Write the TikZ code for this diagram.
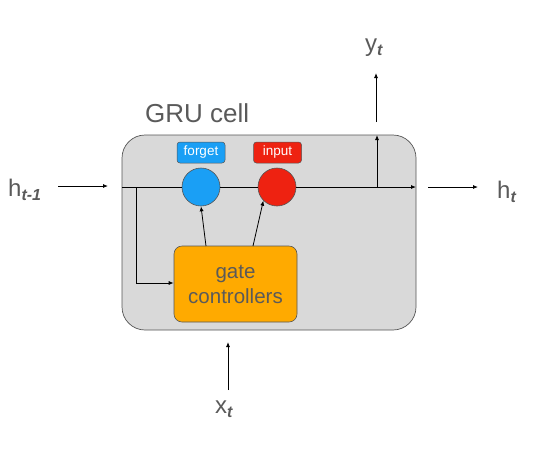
\documentclass[tikz,border=0pt]{standalone}
\usepackage{fontspec}
\setmainfont{Liberation Sans}
\usetikzlibrary{arrows.meta}
\definecolor{cellfill}{HTML}{D9D9D9}
\definecolor{edge}{HTML}{555555}
\definecolor{txt}{HTML}{5A5A5A}
\definecolor{fblue}{HTML}{1A9FF5}
\definecolor{ired}{HTML}{EE2211}
\definecolor{gorange}{HTML}{FFAA00}
\newcommand{\subt}[1]{{\fontsize{16}{16}\selectfont\raisebox{-4pt}{\textbf{\textit{#1}}}}}
\tikzset{
  arr/.style={-{Latex[length=5pt,width=4pt]}, line width=0.8pt, black},
  ln/.style={line width=0.8pt, black},
  gatecirc/.style={circle, draw=edge, line width=0.6pt, minimum size=38pt, inner sep=0pt},
  tag/.style={rounded corners=3pt, draw=edge, line width=0.5pt, text=white, font=\fontsize{13.5}{15}\selectfont, minimum width=48pt, minimum height=21pt, inner sep=0pt},
  lbl/.style={text=txt, font=\fontsize{24}{28}\selectfont, inner sep=0pt},
}
\begin{document}
\begin{tikzpicture}[x=1pt,y=-1pt]
\useasboundingbox (0,0) rectangle (545,459);
% cell
\node[draw=edge, line width=0.7pt, fill=cellfill, rounded corners=23pt, minimum width=294pt, minimum height=195pt, inner sep=0pt] (cell) at (269,232.5) {};
\node[text=txt, font=\fontsize{26}{30}\selectfont, anchor=west, inner sep=0pt] (title) at (145,113) {GRU cell};
% gates
\node[gatecirc, fill=fblue] (forget) at (201,187) {};
\node[gatecirc, fill=ired] (input) at (277,187) {};
\node[tag, fill=fblue] (ftag) at (201,152.5) {forget};
\node[tag, fill=ired] (itag) at (277.5,152.5) {input};
\node[draw=edge, line width=0.6pt, fill=gorange, rounded corners=8pt, minimum width=123pt, minimum height=76pt, inner sep=0pt, align=center, text=txt, font=\fontsize{20.5}{25}\selectfont] (gc) at (235.5,284) {gate\\controllers};
% coordinates
\coordinate (inL) at (122,187);
\coordinate (br) at (136,187);
\coordinate (brd) at (136,283);
\coordinate (outR) at (416,187);
\coordinate (yb) at (377,187);
\coordinate (yt) at (377,135);
% main line
\draw[ln] (inL) -- (forget.west);
\draw[ln] (forget.east) -- (input.west);
\draw[arr] (input.east) -- (outR);
\draw[arr] (yb) -- (yt);
\draw[arr] (br) -- (brd) -- (gc.west |- brd);
\draw[arr] (206,246) -- (forget.south);
\draw[arr] (253,246) -- (input.south west);
% outside
\node[lbl, anchor=base west] (hprev) at (8,196) {h\subt{t-1}};
\coordinate (hp1) at (58,186);
\coordinate (hp2) at (108,186);
\draw[arr] (hp1) -- (hp2);
\node[lbl, anchor=base west] (hnext) at (497,198) {h\subt{t}};
\coordinate (hn1) at (428,187);
\coordinate (hn2) at (478,187);
\draw[arr] (hn1) -- (hn2);
\node[lbl, anchor=base west] (ylab) at (365,51) {y\subt{t}};
\coordinate (y1) at (376,122);
\coordinate (y2) at (376,73);
\draw[arr] (y1) -- (y2);
\node[lbl, anchor=base west] (xlab) at (215,413) {x\subt{t}};
\coordinate (x1) at (228,390);
\coordinate (x2) at (228,342);
\draw[arr] (x1) -- (x2);
\end{tikzpicture}
\end{document}
